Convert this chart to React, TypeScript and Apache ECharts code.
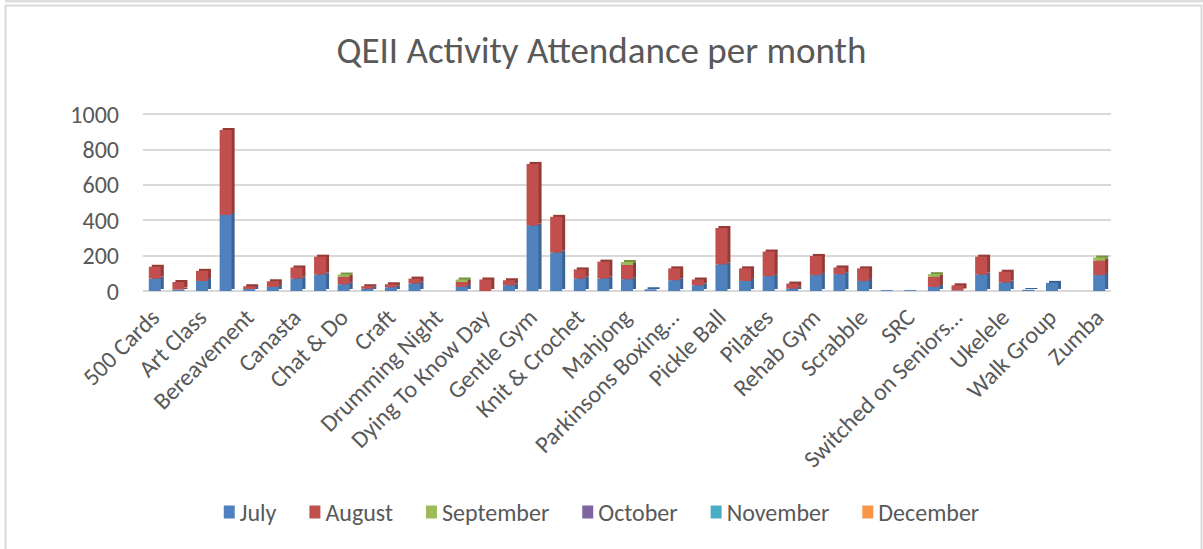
import React, { useEffect, useRef } from "react";
import * as echarts from "echarts";

const categories = [
  "500 Cards", "Aqua Aerobics", "Art Class", "Balance Class", "Bereavement", "Bingo",
  "Canasta", "Card Making", "Chat & Do", "Choir", "Craft", "Dance Class",
  "Drumming Night", "Drumming Workshop", "Dying To Know Day", "Falls Prevention",
  "Gentle Gym", "Hydrotherapy", "Knit & Crochet", "Line Dancing", "Mahjong", "Men's Shed",
  "Parkinsons Boxing…", "Photography", "Pickle Ball", "Pickle Ball Social", "Pilates",
  "Qi Gong", "Rehab Gym", "Rummikub", "Scrabble", "Sewing Group", "SRC",
  "Strength & Balance", "Switched on Seniors…", "Tai Chi", "Ukelele", "Volunteers",
  "Walk Group", "Yoga", "Zumba",
];

const july = [
  70, 8, 57, 429, 11, 23, 70, 93, 38, 13, 21, 42, 0, 23, 0, 32, 370, 217, 70, 70, 67, 10,
  61, 32, 150, 57, 84, 13, 90, 95, 57, 5, 5, 23, 3, 93, 48, 7, 46, 0, 90,
];
const august = [
  67, 43, 57, 480, 16, 32, 63, 101, 42, 14, 17, 28, 0, 28, 65, 29, 348, 202, 52, 96, 80, 0,
  67, 33, 206, 71, 139, 29, 108, 38, 71, 0, 0, 57, 29, 101, 61, 0, 0, 0, 81,
];
const september = [
  0, 0, 0, 0, 0, 0, 0, 0, 13, 0, 0, 0, 0, 14, 0, 0, 0, 0, 0, 0, 17, 0,
  0, 0, 0, 0, 0, 0, 0, 0, 0, 0, 0, 15, 0, 0, 0, 0, 0, 0, 18,
];
const october = categories.map(() => 0);
const november = categories.map(() => 0);
const december = categories.map(() => 0);

const seriesNames = ["July", "August", "September", "October", "November", "December"];
const seriesColors = ["#4F81BD", "#C0504D", "#9BBB59", "#8064A2", "#4BACC6", "#F79646"];
const seriesSides = ["#3A6496", "#943B39", "#76913F", "#5F4A7A", "#358599", "#C2722F"];
const seriesData = [july, august, september, october, november, december];

const yTicks = [0, 200, 400, 600, 800, 1000];

const FONT = "Carlito, Calibri, 'Open Sans', sans-serif";

export default function App() {
  const ref = useRef<HTMLDivElement>(null);

  useEffect(() => {
    document.body.style.margin = "0";
    const chart = echarts.init(ref.current!, undefined, { renderer: "svg" });
    chart.setOption({
      animation: false,
      backgroundColor: "#ffffff",
      textStyle: { fontFamily: FONT },
      title: {
        text: "QEII Activity Attendance per month",
        left: "center",
        top: 27,
        textStyle: { fontSize: 37, fontWeight: "normal", color: "#595959", fontFamily: FONT },
      },
      legend: {
        bottom: 20,
        left: "center",
        itemWidth: 11,
        itemHeight: 13,
        itemGap: 33,
        icon: "rect",
        data: seriesNames,
        textStyle: { fontSize: 24, color: "#595959", fontFamily: FONT },
      },
      grid: { left: 143, right: 92, top: 114, bottom: 258, containLabel: false },
      xAxis: {
        type: "category",
        data: categories,
        axisLine: { show: false },
        axisTick: { show: false },
        axisLabel: {
          interval: 1,
          rotate: 45,
          margin: 22,
          fontSize: 24,
          color: "#595959",
          fontFamily: FONT,
        },
      },
      yAxis: {
        type: "value",
        min: yTicks[0],
        max: yTicks[yTicks.length - 1],
        interval: 200,
        axisLine: { show: false },
        axisTick: { show: false },
        axisLabel: {
          fontSize: 24,
          color: "#595959",
          margin: 24,
          fontFamily: FONT,
          formatter: (v: number) => String(v),
        },
        splitLine: { lineStyle: { color: "#D9D9D9", width: 2 } },
      },
      graphic: [
        {
          type: "rect",
          shape: { x: 5.5, y: 5.5, width: 1196, height: 600 },
          style: { fill: "none", stroke: "#D9D9D9", lineWidth: 2 },
          silent: true,
        },
        {
          type: "line",
          shape: { x1: 5, y1: 1, x2: 1203, y2: 1 },
          style: { stroke: "#DDDDDD", lineWidth: 3 },
          silent: true,
        },
      ],
      series: seriesNames.map((name, i) => ({
        name,
        type: "bar",
        stack: "total",
        barWidth: 12,
        data: seriesData[i],
        itemStyle: {
          color: seriesColors[i],
          shadowColor: seriesSides[i],
          shadowOffsetX: 3,
          shadowOffsetY: -2,
          shadowBlur: 0,
        },
      })),
    });
    return () => chart.dispose();
  }, []);

  return <div ref={ref} style={{ width: 1203, height: 549 }} />;
}
